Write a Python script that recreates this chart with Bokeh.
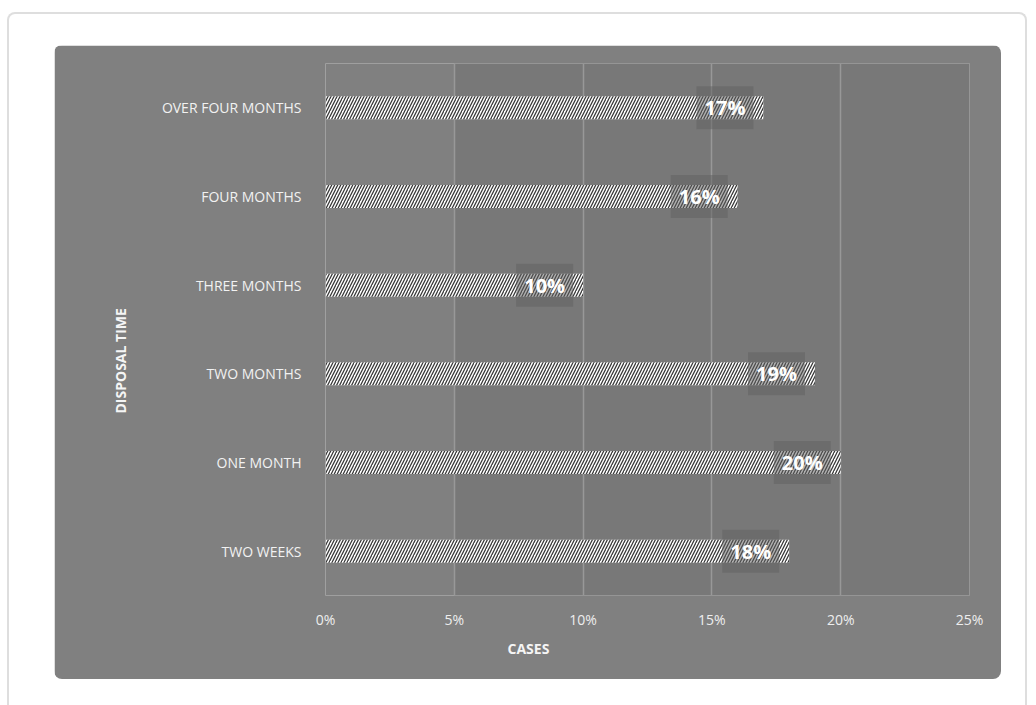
from bokeh.plotting import figure
from bokeh.models import (BoxAnnotation, Title, FixedTicker, PrintfTickFormatter,
                          Range1d, FactorRange, ColumnDataSource, Column)
from bokeh.core.properties import value
from bokeh.embed import file_html
from bokeh.resources import INLINE

categories = ["OVER FOUR MONTHS", "FOUR MONTHS", "THREE MONTHS", "TWO MONTHS", "ONE MONTH", "TWO WEEKS"]
values = [17, 16, 10, 19, 20, 18]
labels = ["17%", "16%", "10%", "19%", "20%", "18%"]
x_ticks = [0, 5, 10, 15, 20, 25]

src = ColumnDataSource(dict(cat=categories, val=values, lab=labels))

p = figure(width=947, height=634, output_backend="svg", toolbar_location=None,
           y_range=FactorRange(*categories[::-1], range_padding=0),
           x_range=Range1d(0, 25),
           min_border_left=271, min_border_right=32, min_border_top=18, min_border_bottom=84)
p.background_fill_color = "#808080"
p.border_fill_color = "#808080"
p.outline_line_color = None
p.styles = {"border-radius": "8px", "overflow": "hidden"}

area = BoxAnnotation(left=5, right=25, fill_color="#787878", fill_alpha=1,
                     line_color=None, line_alpha=0, level="image")
p.add_layout(area)

p.hbar(y="cat", right="val", left=0, height=0.26, source=src,
       fill_color="white", line_color=None,
       hatch_pattern="/", hatch_color="#383838", hatch_scale=6, hatch_weight=1.3)

p.text(x="val", y="cat", text="lab", source=src, x_offset=-10,
       text_align="right", text_baseline="middle",
       text_font=value("Open Sans"), text_font_style="bold", text_font_size="20px",
       text_color="white",
       background_fill_color="#606060", background_fill_alpha=0.5, padding=8)

p.xgrid.ticker = FixedTicker(ticks=x_ticks)
p.xgrid.grid_line_color = "#989898"
p.xgrid.grid_line_width = 1.5
p.ygrid.grid_line_color = None

p.xaxis.ticker = FixedTicker(ticks=x_ticks)
p.xaxis.formatter = PrintfTickFormatter(format="%d%%")
p.xaxis.axis_line_color = None
p.xaxis.major_tick_line_color = None
p.xaxis.minor_tick_line_color = None
p.xaxis.major_label_text_color = "#eeeeee"
p.xaxis.major_label_text_font = "Open Sans"
p.xaxis.major_label_text_font_size = "14px"
p.xaxis.major_label_standoff = 8

p.yaxis.axis_line_color = None
p.yaxis.major_tick_line_color = None
p.yaxis.minor_tick_line_color = None
p.yaxis.major_label_text_color = "#f2f2f2"
p.yaxis.major_label_text_font = "Open Sans"
p.yaxis.major_label_text_font_size = "14px"
p.yaxis.major_label_standoff = 18

p.add_layout(Title(text="DISPOSAL TIME", align="left", offset=182, standoff=58,
                   text_font="Open Sans", text_font_style="bold", text_font_size="14px",
                   text_color="#f5f5f5"), "left")
p.add_layout(Title(text="CASES", align="left", offset=182, text_font="Open Sans",
                   text_font_style="bold", text_font_size="14px", text_color="#f5f5f5"),
             "below")

outer = Column(p, styles={"margin-left": "7px", "margin-top": "12px",
                          "border": "2px solid #dedede", "border-bottom": "none",
                          "border-radius": "8px 8px 0 0",
                          "padding": "31px 24px 30px 45px", "background": "white"})

open("out.html", "w").write(file_html(outer, INLINE))
